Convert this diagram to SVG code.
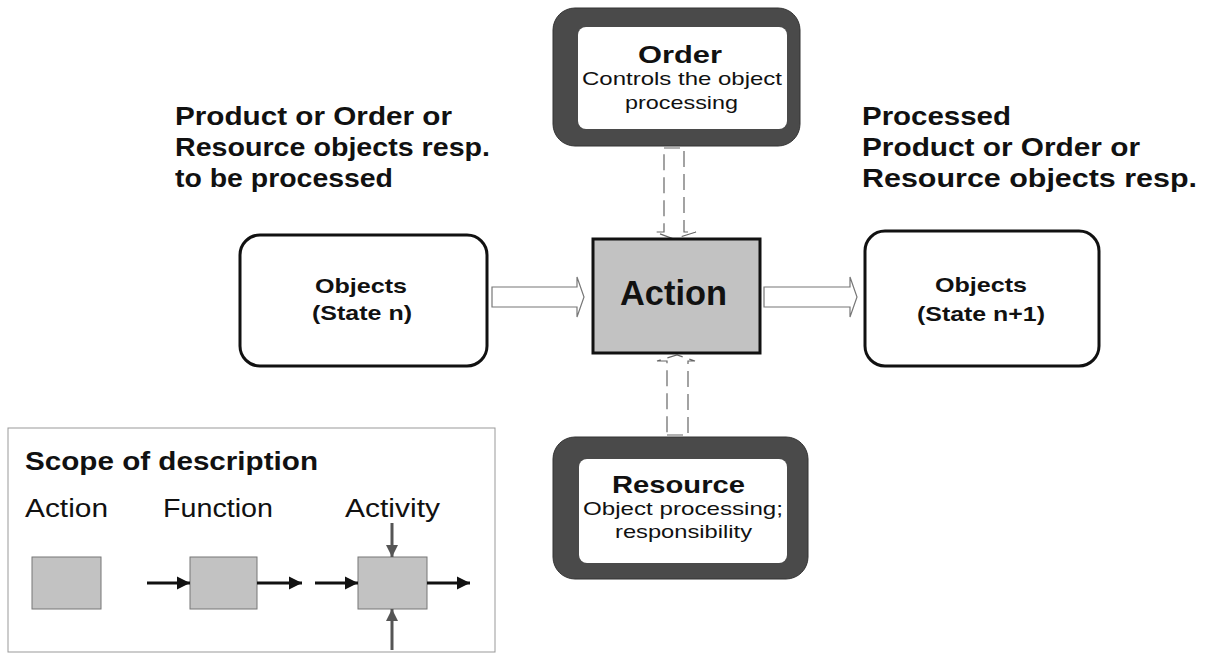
<svg xmlns="http://www.w3.org/2000/svg" width="1208" height="660" viewBox="0 0 1208 660">
  <style>
    text { font-family: "Liberation Sans", Arial, sans-serif; fill: #111; }
    .b { font-weight: bold; }
    .head { font-size: 25px; font-weight: bold; }
    .objbox { fill: #fff; stroke: #111; stroke-width: 3; }
    .frame { fill: #4a4a4a; stroke: #333; stroke-width: 1; }
    .inner { fill: #fff; stroke: none; }
    .gray { fill: #c2c2c2; stroke: #777; stroke-width: 1; }
    .hollow { fill: #fff; stroke: #777; stroke-width: 1.2; }
    .dashed { fill: none; stroke: #666; stroke-width: 1.2; stroke-dasharray: 16 7; }
    .blk { stroke: #111; stroke-width: 3; fill: none; }
    .dg { stroke: #555; stroke-width: 3; fill: none; }
  </style>
  <defs>
    <marker id="ah" viewBox="0 0 10 10" refX="10" refY="5" markerWidth="4.5" markerHeight="4.5" orient="auto" markerUnits="strokeWidth">
      <path d="M0,0 L10,5 L0,10 Z" fill="#111"/>
    </marker>
    <marker id="ahg" viewBox="0 0 10 10" refX="10" refY="5" markerWidth="4" markerHeight="4" orient="auto" markerUnits="strokeWidth">
      <path d="M0,0 L10,5 L0,10 Z" fill="#555"/>
    </marker>
  </defs>

  <rect width="1208" height="660" fill="#fff"/>

  <!-- headings -->
  <g id="heading-left">
    <text x="175" y="125" class="head" textLength="277" lengthAdjust="spacingAndGlyphs">Product or Order or</text>
    <text x="175" y="156" class="head" textLength="315" lengthAdjust="spacingAndGlyphs">Resource objects resp.</text>
    <text x="175" y="187" class="head" textLength="218" lengthAdjust="spacingAndGlyphs">to be processed</text>
  </g>
  <g id="heading-right">
    <text x="862" y="125" class="head" textLength="149" lengthAdjust="spacingAndGlyphs">Processed</text>
    <text x="862" y="156" class="head" textLength="278" lengthAdjust="spacingAndGlyphs">Product or Order or</text>
    <text x="862" y="187" class="head" textLength="335" lengthAdjust="spacingAndGlyphs">Resource objects resp.</text>
  </g>

  <!-- connectors -->
  <g id="connectors">
    <!-- objects in -> action -->
    <path class="hollow" d="M492,287 L577,287 L577,277 L584,297 L577,317 L577,307 L492,307 Z"/>
    <!-- action -> objects out -->
    <path class="hollow" d="M764,287 L850,287 L850,277 L857,297 L850,317 L850,307 L764,307 Z"/>
    <!-- order -> action (dashed block arrow) -->
    <path class="dashed" d="M664,148 L684,148 L684,232 L696,232 L674,239 L655,232 L664,232 Z"/>
    <!-- resource -> action (dashed block arrow) -->
    <path class="dashed" d="M667,435 L688,435 L688,361 L695,361 L677,355 L657,361 L667,361 Z"/>
  </g>

  <!-- order node -->
  <g id="node-order">
    <rect class="frame" x="553" y="8" width="247" height="138" rx="22"/>
    <rect class="inner" x="578" y="27" width="209" height="102" rx="8"/>
    <text x="638" y="63" class="b" font-size="24" textLength="84" lengthAdjust="spacingAndGlyphs">Order</text>
    <text x="582" y="85" font-size="19" textLength="200" lengthAdjust="spacingAndGlyphs">Controls the object</text>
    <text x="625" y="109" font-size="19" textLength="113" lengthAdjust="spacingAndGlyphs">processing</text>
  </g>

  <!-- objects (state n) -->
  <g id="node-objects-in">
    <rect class="objbox" x="240" y="235" width="247" height="131" rx="20"/>
    <text x="315" y="293" class="b" font-size="21" textLength="92" lengthAdjust="spacingAndGlyphs">Objects</text>
    <text x="312" y="320" class="b" font-size="21" textLength="100" lengthAdjust="spacingAndGlyphs">(State n)</text>
  </g>

  <!-- action -->
  <g id="node-action">
    <rect x="593" y="239" width="167" height="114" fill="#c2c2c2" stroke="#111" stroke-width="3"/>
    <text x="620" y="305" class="b" font-size="35" textLength="107" lengthAdjust="spacingAndGlyphs">Action</text>
  </g>

  <!-- objects (state n+1) -->
  <g id="node-objects-out">
    <rect class="objbox" x="865" y="231" width="234" height="135" rx="20"/>
    <text x="935" y="292" class="b" font-size="21" textLength="92" lengthAdjust="spacingAndGlyphs">Objects</text>
    <text x="917" y="321" class="b" font-size="21" textLength="128" lengthAdjust="spacingAndGlyphs">(State n+1)</text>
  </g>

  <!-- resource node -->
  <g id="node-resource">
    <rect class="frame" x="553" y="437" width="255" height="142" rx="22"/>
    <rect class="inner" x="579" y="459" width="208" height="104" rx="8"/>
    <text x="612" y="493" class="b" font-size="24" textLength="133" lengthAdjust="spacingAndGlyphs">Resource</text>
    <text x="583" y="515" font-size="19" textLength="200" lengthAdjust="spacingAndGlyphs">Object processing;</text>
    <text x="615" y="538" font-size="19" textLength="137" lengthAdjust="spacingAndGlyphs">responsibility</text>
  </g>

  <!-- legend -->
  <g id="legend">
    <rect x="8" y="428" width="487" height="224" fill="#fff" stroke="#999" stroke-width="1"/>
    <text x="25" y="470" class="b" font-size="25" textLength="293" lengthAdjust="spacingAndGlyphs">Scope of description</text>
    <text x="25" y="517" font-size="25" textLength="83" lengthAdjust="spacingAndGlyphs">Action</text>
    <text x="163" y="517" font-size="25" textLength="110" lengthAdjust="spacingAndGlyphs">Function</text>
    <text x="345" y="517" font-size="25" textLength="95" lengthAdjust="spacingAndGlyphs">Activity</text>

    <rect class="gray" x="32" y="557" width="69" height="52"/>

    <rect class="gray" x="190" y="557" width="67" height="52"/>
    <line class="blk" x1="147" y1="583" x2="190" y2="583" marker-end="url(#ah)"/>
    <line class="blk" x1="257" y1="583" x2="302" y2="583" marker-end="url(#ah)"/>

    <rect class="gray" x="358" y="557" width="69" height="52"/>
    <line class="blk" x1="315" y1="583" x2="358" y2="583" marker-end="url(#ah)"/>
    <line class="blk" x1="427" y1="583" x2="470" y2="583" marker-end="url(#ah)"/>
    <line class="dg" x1="392" y1="523" x2="392" y2="557" marker-end="url(#ahg)"/>
    <line class="dg" x1="392" y1="650" x2="392" y2="609" marker-end="url(#ahg)"/>
  </g>
</svg>
